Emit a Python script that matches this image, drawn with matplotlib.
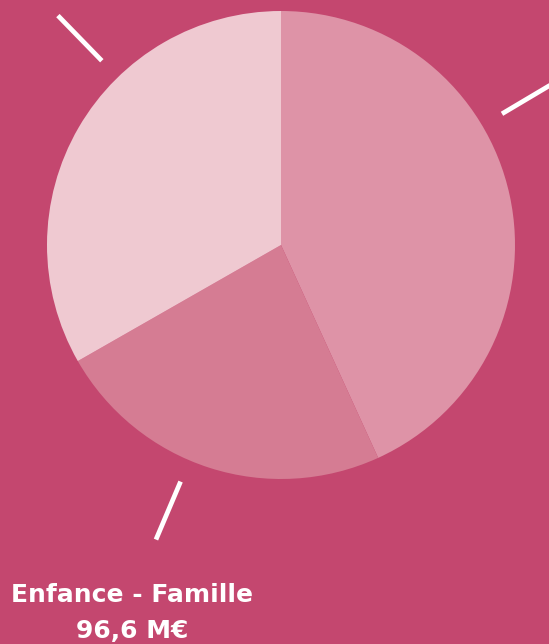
"""Pie chart of a budget split, one visible label (Enfance - Famille)."""
import matplotlib
matplotlib.use("Agg")
import matplotlib.pyplot as plt
import numpy as np

# slice values in M€, clockwise from 12 o'clock
values = [177.1, 96.6, 136.4]
slice_colors = ["#DE93A7", "#D57C93", "#EFC9D1"]
label_name = "Enfance - Famille"
label_value = "96,6 M€"

BG = "#C4476F"
W, H = 549, 644
CX, CY, R = 281, H - 245, 234
leader_angles = [134.2, 30.7, -113.0]   # degrees, where the white ticks sit

fig = plt.figure(figsize=(W / 100, H / 100), dpi=100, facecolor=BG)
ax = fig.add_axes([0, 0, 1, 1])
ax.set_facecolor(BG)

ax.pie(values, colors=slice_colors, startangle=90, counterclock=False,
       center=(CX, CY), radius=R, frame=True,
       wedgeprops=dict(linewidth=0))
ax.set_xlim(0, W)
ax.set_ylim(0, H)
ax.set_aspect("equal")
ax.axis("off")

for a in leader_angles:
    t = np.deg2rad(a)
    r0, r1 = 257, 320
    ax.plot([CX + r0 * np.cos(t), CX + r1 * np.cos(t)],
            [CY + r0 * np.sin(t), CY + r1 * np.sin(t)],
            color="white", linewidth=3.4, solid_capstyle="butt")

font = dict(ha="center", va="center", color="white", fontsize=18,
            fontweight="bold", family=["DejaVu Sans"])
ax.text(132, H - 595, label_name, **font)
ax.text(132, H - 631, label_value, **font)

fig.savefig("out.png", dpi=100, facecolor=BG)
